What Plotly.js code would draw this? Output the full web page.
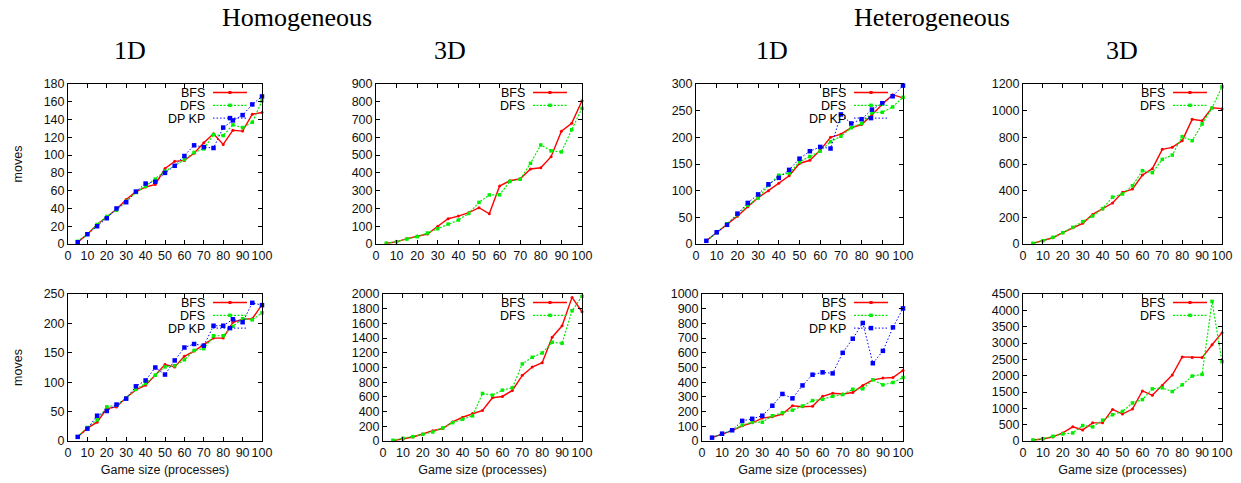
<!DOCTYPE html>
<html>
<head>
<meta charset="utf-8">
<script src="https://cdn.plot.ly/plotly-3.0.1.min.js"></script>
<style>html,body{margin:0;padding:0;background:#fff;}#chart{width:1241px;height:483px;}</style>
</head>
<body>
<div id="chart"></div>
<script>
// ---------------- DATA ----------------
const gameSize = [5,10,15,20,25,30,35,40,45,50,55,60,65,70,75,80,85,90,95,100];
const seriesNames = ["BFS", "DFS", "DP KP"];
const xTicks = [0,10,20,30,40,50,60,70,80,90,100];

// Homogeneous 1D (top row)
const hom1dTopBFS  = [2,11,22,30,39,50,59,64,67,85,93,94,102,114,124,112,128,127,146,148];
const hom1dTopDFS  = [3,11,22,31,38,48,58,65,73,82,88,95,103,107,123,122,134,131,137,161];
const hom1dTopDPKP = [2,11,20,29,40,47,59,68,70,80,88,99,111,109,108,131,139,145,157,166];
// Homogeneous 3D (top row)
const hom3dTopBFS  = [4,12,30,45,56,100,142,157,176,204,170,326,356,367,422,429,491,634,679,806];
const hom3dTopDFS  = [5,13,28,41,62,86,112,135,172,234,276,277,352,364,454,557,524,518,643,763];
// Heterogeneous 1D (top row)
const het1dTopBFS  = [6,21,36,52,70,87,100,114,128,151,157,176,200,206,218,224,242,262,280,274];
const het1dTopDFS  = [6,21,38,55,73,86,110,129,133,154,164,174,192,202,218,226,246,247,257,275];
const het1dTopDPKP = [6,22,36,57,77,93,112,124,139,160,174,182,179,243,226,234,252,264,277,297];
// Heterogeneous 3D (top row)
const het3dTopBFS  = [5,25,47,85,122,155,222,262,307,388,412,517,565,710,725,775,935,925,1022,1015];
const het3dTopDFS  = [5,25,50,85,125,168,210,265,352,375,437,550,535,635,667,805,775,900,1020,1180];

// Homogeneous 1D (bottom row)
const hom1dBotBFS  = [7,22,32,55,58,74,87,95,112,130,126,144,153,164,175,175,202,207,208,232];
const hom1dBotDFS  = [7,23,36,58,61,73,88,98,112,126,128,138,154,157,179,179,195,208,206,218];
const hom1dBotDPKP = [7,21,43,51,62,72,93,103,125,113,137,159,165,162,196,196,207,202,235,231];
// Homogeneous 3D (bottom row)
const hom3dBotBFS  = [5,25,55,95,140,170,260,323,374,415,588,606,688,893,1007,1066,1412,1567,1954,1758];
const hom3dBotDFS  = [10,36,59,91,123,178,250,296,342,647,624,692,724,1048,1139,1198,1344,1330,1772,1968];
// Heterogeneous 1D (bottom row)
const het1dBotBFS  = [23,46,71,103,124,156,165,183,240,233,236,304,325,320,330,378,416,428,432,480];
const het1dBotDFS  = [23,46,73,108,128,128,172,192,210,238,275,284,304,316,352,355,416,382,398,432];
const het1dBotDPKP = [23,50,73,137,151,172,240,320,290,378,451,467,460,600,696,803,529,613,773,902];
// Heterogeneous 3D (bottom row)
const het3dBotBFS  = [30,60,124,247,433,340,556,556,968,824,978,1534,1400,1700,2018,2575,2554,2554,2945,3316];
const het3dBotDFS  = [30,72,144,216,247,474,433,638,803,906,1164,1267,1596,1627,1514,1720,1988,2039,4274,2430];

const groupTitles = ["Homogeneous", "Heterogeneous"];
const dimTitles = ["1D", "3D", "1D", "3D"];
const yAxisTitle = "moves";
const xAxisTitle = "Game size (processes)";

// ---------------- LAYOUT ----------------
const W = 1241, H = 483;
const styles = [
  {color:"#ff0000", dash:"solid", width:1.4, symbol:"circle", msize:3},
  {color:"#00ee00", dash:"2px,1.5px", width:1.2, symbol:"square", msize:3.5},
  {color:"#0000ff", dash:"1.5px,2px", width:1.0, symbol:"square", msize:4.5}
];
// pixel boxes [left, right, top, bottom]
const panels = [
  {box:[68,262,84,244],   ymax:180,  dtick:20,  data:[hom1dTopBFS,hom1dTopDFS,hom1dTopDPKP], ytitle:true},
  {box:[376,582,84,244],  ymax:900,  dtick:100, data:[hom3dTopBFS,hom3dTopDFS]},
  {box:[696,903,84,244],  ymax:300,  dtick:50,  data:[het1dTopBFS,het1dTopDFS,het1dTopDPKP]},
  {box:[1023,1222,84,244],ymax:1200, dtick:200, data:[het3dTopBFS,het3dTopDFS]},
  {box:[68,262,294,441],  ymax:250,  dtick:50,  data:[hom1dBotBFS,hom1dBotDFS,hom1dBotDPKP], ytitle:true, xtitle:true},
  {box:[383,582,294,441], ymax:2000, dtick:200, data:[hom3dBotBFS,hom3dBotDFS], xtitle:true},
  {box:[702,903,294,441], ymax:1000, dtick:100, data:[het1dBotBFS,het1dBotDFS,het1dBotDPKP], xtitle:true},
  {box:[1023,1222,294,441],ymax:4500,dtick:500, data:[het3dBotBFS,het3dBotDFS], xtitle:true}
];

const tickFont = {family:"Liberation Sans, Arial, sans-serif", size:12.5, color:"#111"};
const titleFont = {family:"Liberation Serif, Times New Roman, serif", size:26, color:"#000"};

const traces = [];
const layout = {
  width:W, height:H, margin:{l:0,r:0,t:0,b:0},
  paper_bgcolor:"#fff", plot_bgcolor:"#fff",
  showlegend:false, annotations:[], shapes:[], font:tickFont
};

panels.forEach((p, i) => {
  const n = i + 1;
  const xa = n === 1 ? "x" : "x" + n;
  const ya = n === 1 ? "y" : "y" + n;
  const [L, R, T, B] = p.box;
  layout["xaxis" + (n === 1 ? "" : n)] = {
    domain:[L / W, R / W], anchor:ya, range:[0,100], tickvals:xTicks, tickangle:0,
    showgrid:false, zeroline:false, showline:true, linecolor:"#000", linewidth:1,
    mirror:"ticks", ticks:"inside", ticklen:4, tickcolor:"#000", tickfont:tickFont,
    title: p.xtitle ? {text:xAxisTitle, font:tickFont, standoff:6} : {text:""}
  };
  layout["yaxis" + (n === 1 ? "" : n)] = {
    domain:[1 - B / H, 1 - T / H], anchor:xa, range:[0, p.ymax], dtick:p.dtick, tick0:0,
    showgrid:false, zeroline:false, showline:true, linecolor:"#000", linewidth:1,
    mirror:"ticks", ticks:"inside", ticklen:4, tickcolor:"#000", tickfont:tickFont,
    title: p.ytitle ? {text:yAxisTitle, font:tickFont, standoff:18} : {text:""}
  };
  p.data.forEach((vals, k) => {
    const s = styles[k];
    traces.push({
      type:"scatter", mode:"lines+markers", x:gameSize, y:vals, xaxis:xa, yaxis:ya,
      name:seriesNames[k], cliponaxis:false,
      line:{color:s.color, dash:s.dash, width:s.width},
      marker:{color:s.color, symbol:s.symbol, size:s.msize}
    });
    // gnuplot-style key (text right-aligned, sample to its right)
    const yPx = T + 8.5 + 12.8 * k;
    layout.annotations.push({
      xref:"paper", yref:"paper", x:(R - 56) / W, y:1 - yPx / H,
      xanchor:"right", yanchor:"middle", showarrow:false, text:seriesNames[k],
      height:11, borderpad:0, valign:"middle",
      font:{family:tickFont.family, size:12.5, color:"#000"}
    });
    layout.shapes.push({
      type:"line", xref:"paper", yref:"paper",
      x0:(R - 49) / W, x1:(R - 15) / W, y0:1 - yPx / H, y1:1 - yPx / H,
      line:{color:s.color, width:s.width, dash:s.dash}
    });
    const hs = s.msize / 2;
    layout.shapes.push({
      type:"rect", xref:"paper", yref:"paper",
      x0:(R - 32 - hs) / W, x1:(R - 32 + hs) / W,
      y0:1 - (yPx + hs) / H, y1:1 - (yPx - hs) / H,
      fillcolor:s.color, line:{width:0}
    });
  });
});

// titles
const groupX = [297, 932];
groupTitles.forEach((t, i) => layout.annotations.push({
  xref:"paper", yref:"paper", x:groupX[i] / W, y:1 - 18 / H, xanchor:"center", yanchor:"middle",
  showarrow:false, text:t, font:titleFont
}));
const dimX = [130, 450, 772, 1122];
dimTitles.forEach((t, i) => layout.annotations.push({
  xref:"paper", yref:"paper", x:dimX[i] / W, y:1 - 51 / H, xanchor:"center", yanchor:"middle",
  showarrow:false, text:t, font:titleFont
}));

Plotly.newPlot("chart", traces, layout, {staticPlot:true, displayModeBar:false});
</script>
</body>
</html>
